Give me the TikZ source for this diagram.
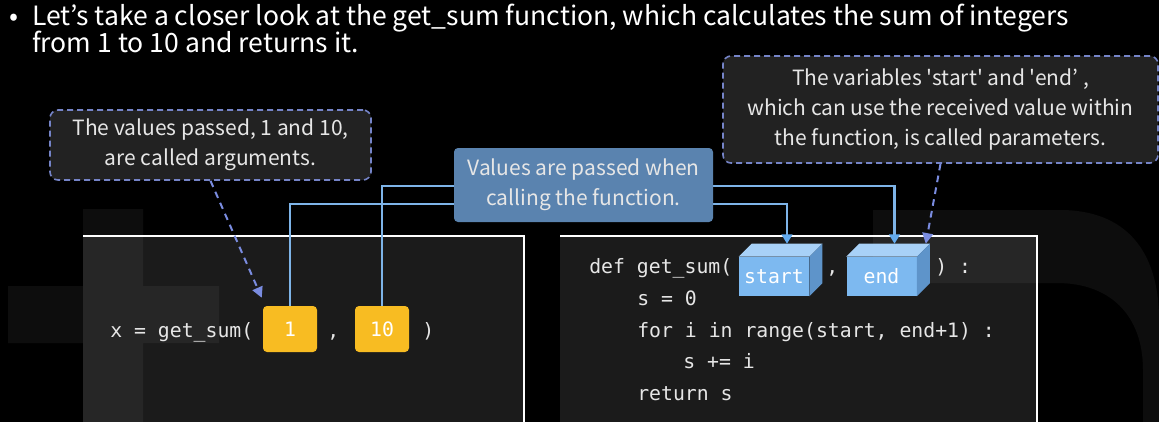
\documentclass[tikz,border=0pt]{standalone}
\usepackage{fontspec}
\setmainfont{Noto Sans CJK KR}
\newfontfamily\plainsans{Noto Sans CJK KR}
\setmonofont{DejaVu Sans Mono}
\usetikzlibrary{arrows.meta,calc}
\definecolor{panel}{HTML}{1B1B1B}
\definecolor{gold}{HTML}{F8BC22}
\definecolor{connblue}{HTML}{7EB4E8}
\definecolor{tipblue}{HTML}{62AAEE}
\definecolor{cubefront}{HTML}{7DB9F0}
\definecolor{cubetop}{HTML}{A8D1F7}
\definecolor{cubeside}{HTML}{5E94CA}
\definecolor{calloutc}{HTML}{5A83AF}
\definecolor{dashc}{HTML}{7584C8}
\definecolor{dasharr}{HTML}{7A8CE0}
\definecolor{notefill}{HTML}{222222}
\definecolor{codetext}{HTML}{E6E6E6}
\newcommand\mycodefont{\fontsize{14.85}{18}\ttfamily}
\newcommand\mynotefont{\plainsans\fontsize{15.75}{22.5}\selectfont}
\newcommand\mytitlefont{\plainsans\fontsize{19.9}{20.25}\selectfont}
\tikzset{
  note/.style={draw=dashc, fill=notefill, rounded corners=6pt, line width=1.2pt,
    dash pattern=on 4.5pt off 3pt, text=codetext, align=center, font=\mynotefont, inner sep=0pt},
  argbox/.style={fill=gold, rounded corners=3pt, minimum width=40.5pt, minimum height=34.5pt,
    inner sep=0pt, text=white, font=\mycodefont},
  cubebox/.style={fill=cubefront, minimum width=52.5pt, minimum height=29.25pt, inner sep=0pt,
    text=white, font=\mycodefont},
  codeline/.style={anchor=base west, text=codetext, font=\mycodefont, inner sep=0pt},
  conn/.style={draw=connblue, line width=1.6pt, -{Triangle[length=7pt,width=8pt,color=tipblue]}},
  dasharrow/.style={draw=dasharr, line width=1.5pt, dash pattern=on 5pt off 4pt,
    -{Triangle[length=8pt,width=8pt]}},
  callout/.style={fill=calloutc, rounded corners=3pt, minimum width=194.25pt, minimum height=55.5pt,
    inner sep=0pt, align=center, text=codetext, font=\mynotefont},
  panelborder/.style={draw=white, line width=1.1pt},
  titletext/.style={anchor=base west, inner sep=0pt, text=white, font=\mytitlefont}
}
\begin{document}
\begin{tikzpicture}[x=0.75pt,y=-0.75pt]
\useasboundingbox (0,0) rectangle (1159,422);
\fill[black] (0,0) rectangle (1159,422);
% code panels
\fill[panel] (83,236) rectangle (524,422);
\fill[panel] (560,236) rectangle (1037,422);
% faint background shapes
\fill[white,opacity=0.05] (83,209) rectangle (143,422) (8,286) rectangle (219,343);
\fill[white,opacity=0.05] (873,210) -- (1060,210) .. controls (1125,210) and (1159,250) .. (1159,320)
  -- (1159,422) -- (1143,422) -- (1143,370) .. controls (1143,315) and (1110,283) .. (1057,283)
  -- (873,283) -- cycle;
\draw[panelborder] (83,236) -- (524,236) -- (524,422);
\draw[panelborder] (560,236) -- (1037,236) -- (1037,422);
% title
\node[titletext] (bullet) at (9,25) {•};
\node[titletext] (title1) at (32,25)
  {Let’s take a closer look at the get\_sum function, which calculates the sum of integers};
\node[titletext] (title2) at (32,52) {from 1 to 10 and returns it.};
% left code
\node[codeline] (call) at (110,337) {x = get\_sum(};
\node[argbox] (one) at (290,329) {1};
\node[codeline] (comma1) at (327,337) {,};
\node[argbox] (ten) at (382,329) {10};
\node[codeline] (close1) at (422,337) {)};
% right code
\node[codeline] (def) at (589,273) {def get\_sum(};
\node[cubebox] (start) at (774,276.5) {start};
\node[codeline] (comma2) at (826,273) {,};
\node[cubebox] (end) at (881.5,276.5) {end};
\node[codeline] (close2) at (935,273) {) :};
\node[codeline] (l2) at (637,305) {s = 0};
\node[codeline] (l3) at (637,337) {for i in range(start, end+1) :};
\node[codeline] (l4) at (683,368) {s += i};
\node[codeline] (l5) at (637,400) {return s};
% cube faces
\foreach \c in {start,end}{
  \fill[cubetop] (\c.north west) -- ++(13,-13) -- ($(\c.north east)+(13,-13)$) -- (\c.north east) -- cycle;
  \fill[cubeside] (\c.north east) -- ++(13,-13) -- ($(\c.south east)+(13,-13)$) -- (\c.south east) -- cycle;
}
\coordinate (sttop) at ($(start.north)+(13,-13)$);
\coordinate (endtop) at ($(end.north)+(13,-13)$);
% connectors
\coordinate (j1) at (454,204);
\coordinate (j2) at (454,186);
\draw[conn] (one.north) |- (j1) -| (sttop);
\draw[conn] (ten.north) |- (j2) -| (endtop);
\node[callout] (pass) at (583.5,185) {Values are passed when\\calling the function.};
% notes
\node[note, minimum width=240.75pt, minimum height=52.5pt] (argnote) at (210.5,145)
  {The values passed, 1 and 10,\\are called arguments.};
\node[note, minimum width=326.25pt, minimum height=80.25pt] (paramnote) at (940.5,109.5)
  {The variables 'start' and 'end’ ,\\which can use the received value within\\the function, is called parameters.};
\coordinate (argtip) at ($(one.north west)+(-1,-8)$);
\coordinate (paramtip) at ($(end.north east)+(9,-13)$);
\draw[dasharrow] (argnote.south) -- (argtip);
\draw[dasharrow] (paramnote.south) -- (paramtip);
\end{tikzpicture}
\end{document}
